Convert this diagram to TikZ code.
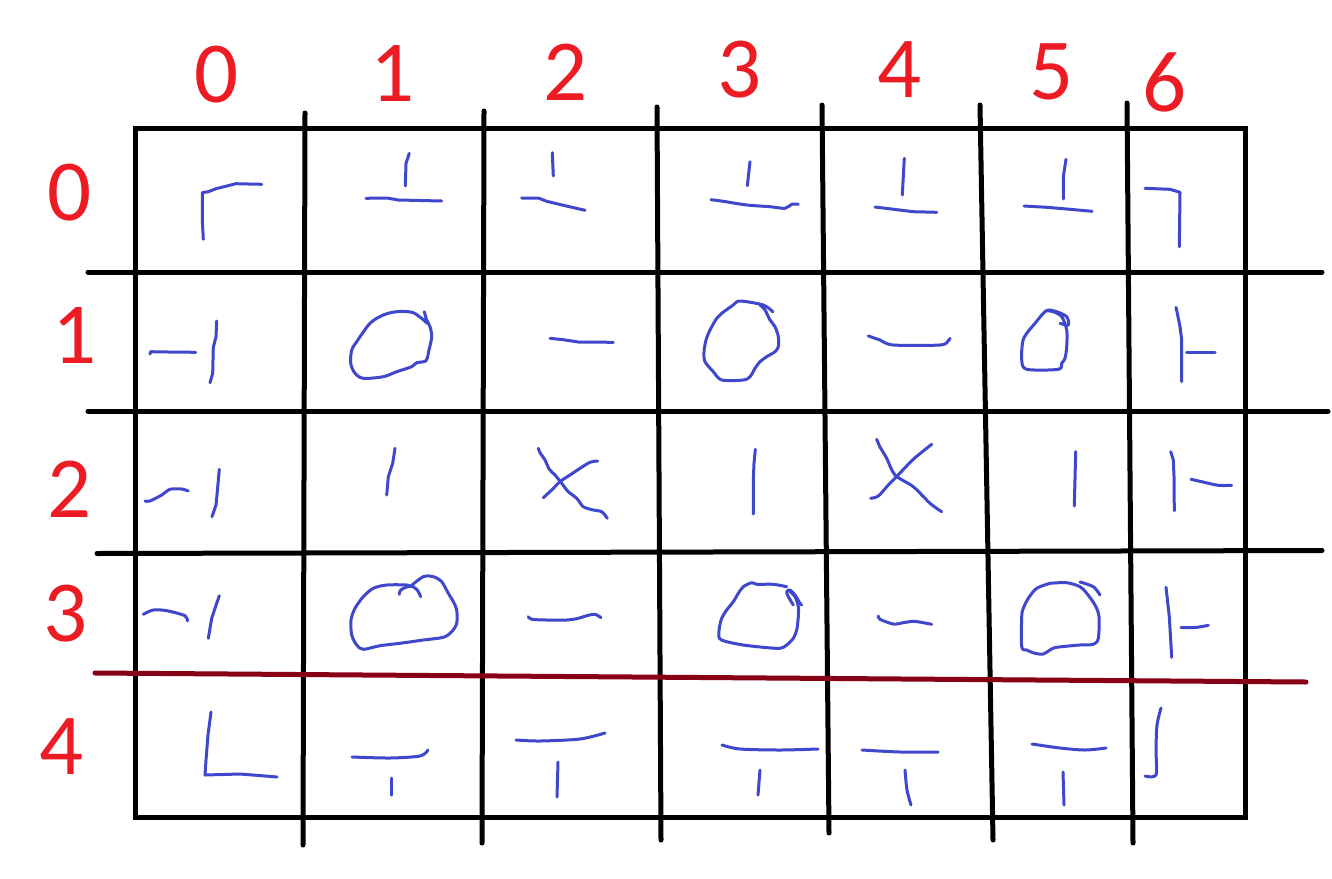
\documentclass[tikz,border=0pt]{standalone}
\usepackage{fontspec}
\setmainfont{Carlito}
\definecolor{lbl}{HTML}{ED1C24}
\definecolor{ink}{HTML}{3F48CC}
\definecolor{wine}{HTML}{880015}
\begin{document}
\begin{tikzpicture}[x=1pt,y=-1pt,
  grid/.style={line width=5pt,black,line cap=round},
  pen/.style={line width=3pt,ink,line cap=round,line join=round},
  lab/.style={text=lbl,inner sep=0pt,font=\fontsize{87}{87}\selectfont}]
\useasboundingbox[fill=white] (0,0) rectangle (1332,878);
% grid
\draw[grid] (135,128) rectangle (1245,817);
\draw[grid] (305,113) -- (303,845);
\draw[grid] (484,111) -- (482,843);
\draw[grid] (657,107) -- (661,840);
\draw[grid] (822,105) -- (829,833);
\draw[grid] (980,105) -- (993,840);
\draw[grid] (1127,103) -- (1133,843);
\draw[grid] (88,272) -- (1322,272);
\draw[grid] (88,411) -- (1328,411);
\draw[grid] (97,553.5) -- (1322,550.5);
\draw[line width=5pt,wine,line cap=round] (95,673) -- (1306,682);
% labels
\node[lab] (c0) at (217,75) {0};
\node[lab] (c1) at (393,74) {1};
\node[lab] (c2) at (566,72) {2};
\node[lab] (c3) at (740,70) {3};
\node[lab] (c4) at (900,70) {4};
\node[lab] (c5) at (1052,72) {5};
\node[lab] (c6) at (1165,82) {6};
\node[lab] (r0) at (70,193) {0};
\node[lab] (r1) at (75,335) {1};
\node[lab] (r2) at (70,489) {2};
\node[lab] (r3) at (66,614) {3};
\node[lab] (r4) at (62,747) {4};
% row 0
\draw[pen] (203.3,239.3) -- (202.3,220) -- (202.3,192.7) -- (208.3,191.7) -- (216,188.7) -- (226.7,186) -- (236,183.7) -- (261.7,184.3);
\draw[pen] (409.3,153.3) -- (406,163.3) -- (405.3,186);
\draw[pen] (366,198.3) -- (386.7,198) -- (398.3,200) -- (441.7,201);
\draw[pen] (552.3,152.7) -- (553.3,176);
\draw[pen] (521.7,198) -- (538.3,198) -- (546.7,201.3) -- (563.3,205.3) -- (585,210.3);
\draw[pen] (750,161.7) -- (747.3,185.7);
\draw[pen] plot[smooth] coordinates {(711,199.7) (723.3,201.3) (746.7,205) (770,206.7) (785,208.3) (791.7,204.3) (798.3,204.3)};
\draw[pen] (904.3,158.3) -- (902.3,195);
\draw[pen] (875,207) -- (913.3,211.7) -- (936.7,212.3);
\draw[pen] (1066,159.3) -- (1063.3,176.7) -- (1063.3,199);
\draw[pen] (1024,206) -- (1046.7,207.3) -- (1066.7,209) -- (1092,211.3);
\draw[pen] (1145,188.3) -- (1170,189.3) -- (1180,192.3) -- (1179.3,246.7);
% row 1
\draw[pen] (150,354) -- (150.7,351.7) -- (168.3,352) -- (195.7,352.3);
\draw[pen] (216.7,321) -- (216,336.7) -- (213.3,347.3) -- (212.7,373.3) -- (210,382.7);
\draw[pen] plot[smooth] coordinates {(424.3,311.7) (426.7,320) (430,326.7) (431.7,336.7) (429,350) (426,360.7) (416.7,362.7) (411.7,366.7) (396.7,371.7) (383.3,376.7) (363.3,378.3) (355,373.3) (350.7,363.3) (351.7,350) (356.7,341.7) (370,323.3) (383.3,315) (396.7,311.7) (413.3,312.7) (427.3,323.3)};
\draw[pen] (550,338.3) -- (563.3,339.7) -- (578.3,342) -- (613.3,342.3);
\draw[pen] plot[smooth] coordinates {(772.7,311.7) (763.3,305) (740,301) (733.3,305) (721.7,313.3) (716.7,318.3) (710,330) (706,340) (704,351.7) (705,361.7) (713.3,371.7) (721.7,380) (743.3,380) (750,376.7) (755,368.3) (760,361.7) (766.7,356.7) (775,351.7) (778.3,346.7) (778.3,336.7) (775,326.7) (770,320) (765,310) (760,305)};
\draw[pen] plot[smooth] coordinates {(868.3,336) (880,340) (893.3,345) (940,345) (948.3,340.7) (950,338.3)};
\draw[pen] plot[smooth] coordinates {(1060,323.3) (1068.3,325) (1066.7,316.7) (1056.7,311.7) (1048.3,310) (1043.3,313.3) (1035,323.3) (1026.7,333.3) (1022.7,341.7) (1021.7,360) (1026.7,369.3) (1058.3,369.3) (1061.7,363.3) (1065,358.3) (1066.7,346.7) (1066.7,330) (1061.7,316.7) (1053.3,311.7) (1046.7,310.7)};
\draw[pen] (1176,307.3) -- (1177.3,313.3) -- (1180,326.7) -- (1181.7,340) -- (1181.7,381.7);
\draw[pen] (1186.7,352.3) -- (1215,352.3);
% row 2
\draw[pen] plot[smooth] coordinates {(145,501) (150,501) (161.7,495) (170,489.3) (181.7,489) (188.3,491)};
\draw[pen] (219.3,469.3) -- (217.3,491.7) -- (216,505) -- (212,516.7);
\draw[pen] (395,448.3) -- (392.7,463.3) -- (388.3,476.7) -- (386.7,495);
\draw[pen] plot[smooth] coordinates {(538.3,448.3) (540,452.7) (545,460) (549.3,469.3) (555,475) (561.7,483.3) (568.3,491.7) (576.7,498.3) (583.3,506.7) (593.3,510) (601.7,511.7) (607.3,518.3)};
\draw[pen] plot[smooth] coordinates {(543.3,497.7) (551.7,490) (560,481.7) (570,475) (580,468.3) (590,462.3) (597.7,461)};
\draw[pen] (755.3,449.3) -- (754,463.3) -- (753.3,480) -- (753.3,514);
\draw[pen] plot[smooth] coordinates {(876.7,439.3) (880,447) (886.7,458.3) (895,475) (913.3,486.7) (930,503.3) (941.7,511.7)};
\draw[pen] plot[smooth] coordinates {(870.7,498.3) (878.3,496) (888.3,485) (895,478.3) (913.3,459.3) (931.7,444.3)};
\draw[pen] (1075.7,451.7) -- (1074.3,506);
\draw[pen] (1170.7,451.7) -- (1173.3,460) -- (1174,476.7) -- (1174.3,510.7);
\draw[pen] plot[smooth] coordinates {(1191,479.3) (1201.7,481.7) (1218.3,485.3) (1231.7,485.3)};
% row 3
\draw[pen] plot[smooth] coordinates {(143.3,614.3) (153.3,610) (166.7,610.7) (185,615.7) (187.3,621)};
\draw[pen] (219.3,595.7) -- (215,608.3) -- (211.7,618.3) -- (208.3,638.3);
\draw[pen] plot[smooth] coordinates {(399.3,594.3) (400.7,590) (410,586) (416.7,589.3) (420.7,596.7)};
\draw[pen] plot[smooth] coordinates {(410,586.7) (423.3,576.7) (433.3,576.7) (441.7,581.7) (448.3,593.3) (453.3,601.7) (456.7,610) (456.7,623.3) (451.7,631.7) (443.3,637.3) (423.3,640) (400,643.3) (380,645.7) (363.3,649.3) (356.7,645) (351.7,635) (351,620) (355,608.3) (363.3,596.7) (373.3,588.3) (386.7,585) (406.7,585) (410,586.7)};
\draw[pen] plot[smooth] coordinates {(528.3,616.7) (531.7,619.3) (546.7,620) (566.7,620) (578.3,618.3) (586.7,615.7) (595,614.3) (601,617.7)};
\draw[pen] plot[smooth] coordinates {(786.7,586.7) (773.3,584.3) (756.7,584.3) (751.7,582.7) (743.3,586.7) (738.3,593.3) (733.3,601.7) (726.7,610) (721.7,618.3) (719.3,628.3) (719.3,638.3) (726.7,641.7) (743.3,645) (763.3,647.3) (780,648.3) (786.7,645) (793.3,638.3) (796.7,630) (798.3,616.7) (798.3,606.7) (795,596.7) (788.3,590)};
\draw[pen] plot[smooth] coordinates {(793.3,605) (788.3,596.7) (786.7,591.7) (790,590) (795,595) (800,603.3) (801.7,605)};
\draw[pen] plot[smooth] coordinates {(878.3,616) (880,619.3) (893.3,624) (903.3,622.7) (913.3,621.3) (923.3,622.7) (931.7,624.3)};
\draw[pen] plot[smooth] coordinates {(1050,583.3) (1036.7,588.3) (1028.3,598.3) (1023.3,608.3) (1021.7,616.7) (1021.7,646.7) (1026.7,650) (1035,653.3) (1043.3,654) (1050,650) (1056.7,647.3) (1080,645) (1093.3,644.3) (1098.3,638.3) (1099,616.7) (1095,605) (1086.7,593.3) (1080,586.7) (1066.7,582.7) (1050,583.3)};
\draw[pen] plot[smooth] coordinates {(1080,582) (1093.3,586.7) (1100,595)};
\draw[pen] (1166,587.3) -- (1169.3,616.7) -- (1171.7,657.3);
\draw[pen] plot[smooth] coordinates {(1181,627.7) (1196.7,627.3) (1208.3,625.3)};
% row 4
\draw[pen] (211,712) -- (208,735) -- (206,760) -- (205,775) -- (240,774) -- (265,776) -- (277,777);
\draw[pen] plot[smooth] coordinates {(352,757) (390,758) (420,756) (428,750)};
\draw[pen] (391,778) -- (391,795);
\draw[pen] plot[smooth] coordinates {(516,740) (540,741) (580,739) (605,733)};
\draw[pen] (558,762) -- (557,797);
\draw[pen] plot[smooth] coordinates {(722,745) (740,749) (780,750) (818,749)};
\draw[pen] (760,770) -- (758,795);
\draw[pen] plot[smooth] coordinates {(862,750) (900,752) (938,752)};
\draw[pen] plot[smooth] coordinates {(905,770) (907,790) (911,805)};
\draw[pen] plot[smooth] coordinates {(1032,744) (1060,748) (1085,750) (1106,748)};
\draw[pen] (1063,772) -- (1064,805);
\draw[pen] plot[smooth] coordinates {(1161,708) (1157,725) (1156,750) (1156,775) (1145,776)};
\end{tikzpicture}
\end{document}
